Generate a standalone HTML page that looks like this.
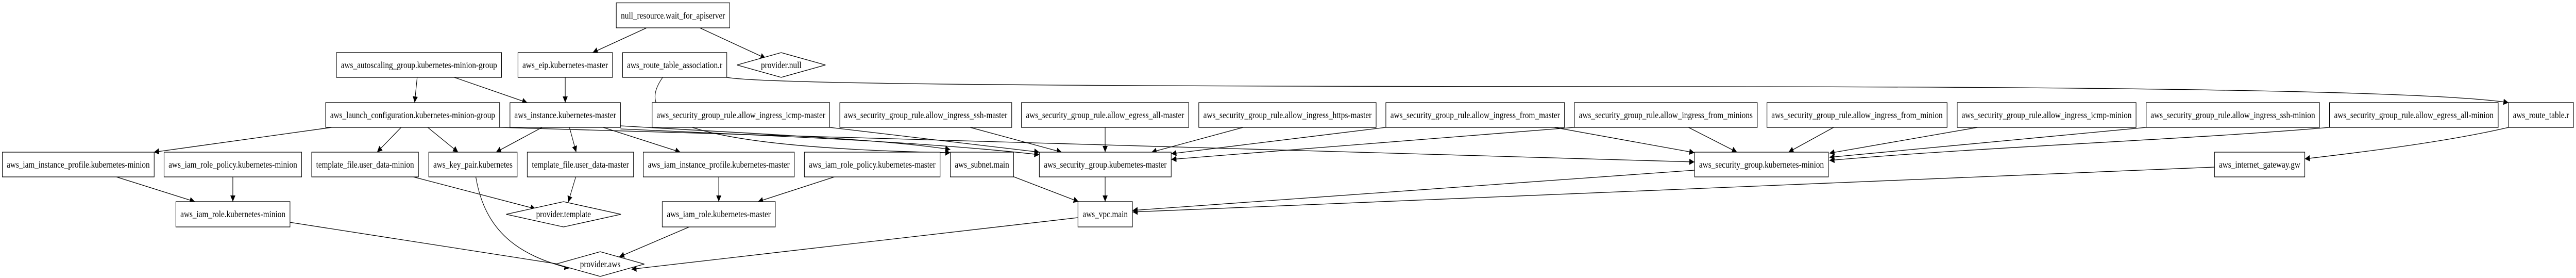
<!DOCTYPE html>
<html><head><meta charset="utf-8"><style>
html,body{margin:0;padding:0;background:#fff;width:100%;height:100%;overflow:hidden;}
svg{display:block;position:absolute;left:0;top:0;width:100vw;height:100vh;}
text{font-family:"Liberation Serif",serif;font-size:18px;fill:#000;}
</style></head><body>
<svg viewBox="0 0 6107 539" preserveAspectRatio="none" xmlns="http://www.w3.org/2000/svg" overflow="hidden">
<defs>
<marker id="a" viewBox="0 0 10 10" refX="10" refY="5" markerWidth="12" markerHeight="12" markerUnits="userSpaceOnUse" orient="auto">
<path d="M0,0 L10,5 L0,10 z" fill="#000"/>
</marker>
</defs>
<g fill="none" stroke="#000" stroke-width="1.3" marker-end="url(#a)">
<path d="M1533,54 L1405,102"/>
<path d="M1659,54 L1815,113"/>
<path d="M989,150 L983,199"/>
<path d="M1077,150 L1250,199"/>
<path d="M1340,150 L1340,199"/>
<path d="M1571,150 C1520,210 1530,285 2253,296"/>
<path d="M1723,150 C1800,162 2400,168 4000,168 C5200,168 5800,180 5947,199"/>
<path d="M786,247 L365,295"/>
<path d="M951,247 L894,295"/>
<path d="M1014,247 L1086,295"/>
<path d="M1184,247 C1500,262 2200,270 4017,314"/>
<path d="M1285,247 L1176,295"/>
<path d="M1350,247 L1366,295"/>
<path d="M1430,247 L1613,295"/>
<path d="M1471,244 C1800,260 2100,270 2253,290"/>
<path d="M1471,250 C1800,262 2200,275 2464,300"/>
<path d="M1967,247 L2464,295"/>
<path d="M2300,247 L2517,295"/>
<path d="M2620,247 L2620,295"/>
<path d="M2947,247 L2730,295"/>
<path d="M3285,247 L2777,298"/>
<path d="M3732,247 L2777,309"/>
<path d="M3685,247 L4017,296"/>
<path d="M4003,247 L4118,295"/>
<path d="M4347,247 L4240,295"/>
<path d="M4688,247 L4337,297"/>
<path d="M5088,247 L4337,305"/>
<path d="M5522,247 C5200,270 4700,285 4337,311"/>
<path d="M5947,247 C5800,275 5600,295 5464,308"/>
<path d="M276,343 L462,391"/>
<path d="M552,343 L552,391"/>
<path d="M980,343 L1270,405"/>
<path d="M1365,343 L1347,392"/>
<path d="M1128,343 C1150,450 1230,495 1350,520"/>
<path d="M1704,343 L1704,391"/>
<path d="M1978,343 L1797,391"/>
<path d="M2401,342 L2557,391"/>
<path d="M2620,343 L2620,391"/>
<path d="M4017,330 L2685,408"/>
<path d="M5250,324 L2685,411"/>
<path d="M687,431 L1355,516"/>
<path d="M1634,440 L1468,498"/>
<path d="M2555,422 L1497,522"/>
</g>
<g fill="#fff" stroke="#000" stroke-width="1.3">
<rect x="1461" y="5.5" width="269" height="48.5"/>
<rect x="797.6" y="102" width="391.4" height="48"/>
<rect x="1228" y="102" width="224" height="48"/>
<rect x="1476" y="102" width="247" height="48"/>
<polygon points="1747,126 1852,102 1957,126 1852,150"/>
<rect x="772" y="199" width="412.5" height="48"/>
<rect x="1209" y="199" width="262" height="48"/>
<rect x="1546" y="199" width="421" height="48"/>
<rect x="1991" y="199" width="407.5" height="48"/>
<rect x="2421.6" y="199" width="396.4" height="48"/>
<rect x="2842" y="199" width="420.4" height="48"/>
<rect x="3285.5" y="199" width="423.5" height="48"/>
<rect x="3732.4" y="199" width="433.6" height="48"/>
<rect x="4189" y="199" width="427" height="48"/>
<rect x="4640" y="199" width="424" height="48"/>
<rect x="5088" y="199" width="411" height="48"/>
<rect x="5522.6" y="199" width="399.9" height="48"/>
<rect x="5947" y="199" width="154" height="48"/>
<rect x="5.6" y="295" width="359.9" height="48"/>
<rect x="389" y="295" width="326" height="48"/>
<rect x="739" y="295" width="253" height="48"/>
<rect x="1016.5" y="295" width="209.5" height="48"/>
<rect x="1250" y="295" width="252" height="48"/>
<rect x="1525" y="295" width="358" height="48"/>
<rect x="1907" y="295" width="321.7" height="48"/>
<rect x="2253" y="295" width="150" height="48"/>
<rect x="2464" y="295" width="312.6" height="48"/>
<rect x="4017.5" y="295" width="317.1" height="48"/>
<rect x="5250" y="295" width="214" height="48"/>
<rect x="417" y="391" width="270.5" height="49"/>
<polygon points="1200,415.5 1336,391 1472,415.5 1336,440"/>
<rect x="1570" y="391" width="268" height="49"/>
<rect x="2555.6" y="391" width="129.1" height="49"/>
<polygon points="1318,512 1423,488 1527.5,512 1423,536"/>
</g>
<g text-anchor="middle">
<text x="1595.5" y="36" textLength="247" lengthAdjust="spacingAndGlyphs">null_resource.wait_for_apiserver</text>
<text x="993.3" y="132" textLength="370" lengthAdjust="spacingAndGlyphs">aws_autoscaling_group.kubernetes-minion-group</text>
<text x="1340" y="132" textLength="203" lengthAdjust="spacingAndGlyphs">aws_eip.kubernetes-master</text>
<text x="1599.5" y="132" textLength="226" lengthAdjust="spacingAndGlyphs">aws_route_table_association.r</text>
<text x="1852" y="132" textLength="96" lengthAdjust="spacingAndGlyphs">provider.null</text>
<text x="978.2" y="229" textLength="391" lengthAdjust="spacingAndGlyphs">aws_launch_configuration.kubernetes-minion-group</text>
<text x="1340" y="229" textLength="241" lengthAdjust="spacingAndGlyphs">aws_instance.kubernetes-master</text>
<text x="1756.5" y="229" textLength="400" lengthAdjust="spacingAndGlyphs">aws_security_group_rule.allow_ingress_icmp-master</text>
<text x="2194.7" y="229" textLength="387" lengthAdjust="spacingAndGlyphs">aws_security_group_rule.allow_ingress_ssh-master</text>
<text x="2619.8" y="229" textLength="375" lengthAdjust="spacingAndGlyphs">aws_security_group_rule.allow_egress_all-master</text>
<text x="3052.2" y="229" textLength="399" lengthAdjust="spacingAndGlyphs">aws_security_group_rule.allow_ingress_https-master</text>
<text x="3497.2" y="229" textLength="402" lengthAdjust="spacingAndGlyphs">aws_security_group_rule.allow_ingress_from_master</text>
<text x="3949.2" y="229" textLength="412" lengthAdjust="spacingAndGlyphs">aws_security_group_rule.allow_ingress_from_minions</text>
<text x="4402.5" y="229" textLength="406" lengthAdjust="spacingAndGlyphs">aws_security_group_rule.allow_ingress_from_minion</text>
<text x="4852" y="229" textLength="403" lengthAdjust="spacingAndGlyphs">aws_security_group_rule.allow_ingress_icmp-minion</text>
<text x="5293.5" y="229" textLength="390" lengthAdjust="spacingAndGlyphs">aws_security_group_rule.allow_ingress_ssh-minion</text>
<text x="5722.5" y="229" textLength="378" lengthAdjust="spacingAndGlyphs">aws_security_group_rule.allow_egress_all-minion</text>
<text x="6024" y="229" textLength="133" lengthAdjust="spacingAndGlyphs">aws_route_table.r</text>
<text x="185.5" y="325" textLength="339" lengthAdjust="spacingAndGlyphs">aws_iam_instance_profile.kubernetes-minion</text>
<text x="552" y="325" textLength="305" lengthAdjust="spacingAndGlyphs">aws_iam_role_policy.kubernetes-minion</text>
<text x="865.5" y="325" textLength="232" lengthAdjust="spacingAndGlyphs">template_file.user_data-minion</text>
<text x="1121.2" y="325" textLength="188" lengthAdjust="spacingAndGlyphs">aws_key_pair.kubernetes</text>
<text x="1376" y="325" textLength="230" lengthAdjust="spacingAndGlyphs">template_file.user_data-master</text>
<text x="1704" y="325" textLength="336" lengthAdjust="spacingAndGlyphs">aws_iam_instance_profile.kubernetes-master</text>
<text x="2067.8" y="325" textLength="300" lengthAdjust="spacingAndGlyphs">aws_iam_role_policy.kubernetes-master</text>
<text x="2328" y="325" textLength="129" lengthAdjust="spacingAndGlyphs">aws_subnet.main</text>
<text x="2620.3" y="325" textLength="291" lengthAdjust="spacingAndGlyphs">aws_security_group.kubernetes-master</text>
<text x="4176" y="325" textLength="296" lengthAdjust="spacingAndGlyphs">aws_security_group.kubernetes-minion</text>
<text x="5357" y="325" textLength="193" lengthAdjust="spacingAndGlyphs">aws_internet_gateway.gw</text>
<text x="552.2" y="421" textLength="249" lengthAdjust="spacingAndGlyphs">aws_iam_role.kubernetes-minion</text>
<text x="1336" y="421" textLength="130" lengthAdjust="spacingAndGlyphs">provider.template</text>
<text x="1704" y="421" textLength="246" lengthAdjust="spacingAndGlyphs">aws_iam_role.kubernetes-master</text>
<text x="2620.2" y="421" textLength="107" lengthAdjust="spacingAndGlyphs">aws_vpc.main</text>
<text x="1423" y="518" textLength="96" lengthAdjust="spacingAndGlyphs">provider.aws</text>
</g>
</svg>
</body></html>
